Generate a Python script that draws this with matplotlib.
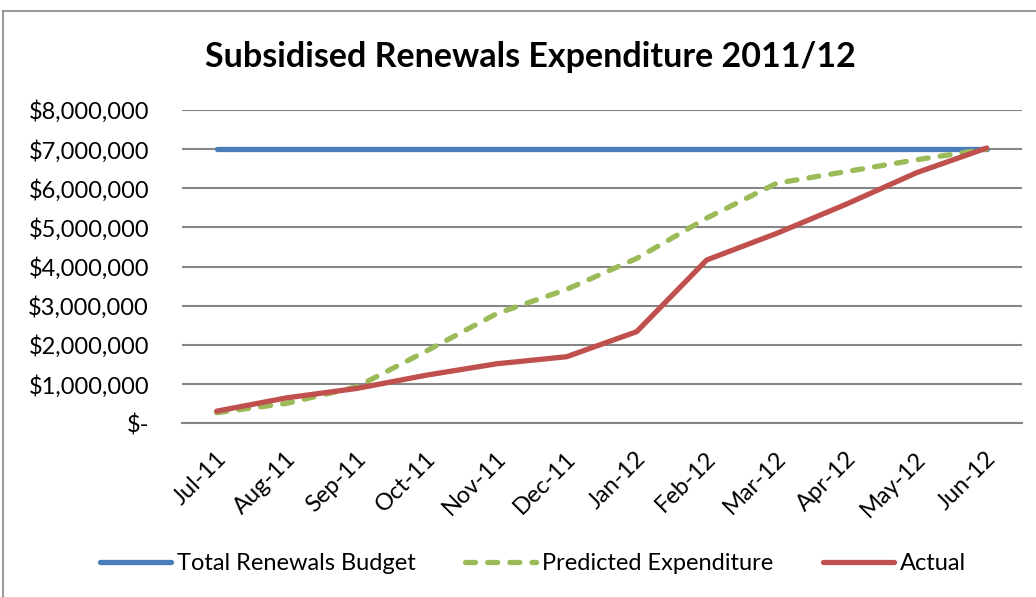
import matplotlib
matplotlib.use("Agg")
import matplotlib.pyplot as plt
from matplotlib.lines import Line2D
from matplotlib.ticker import FuncFormatter
from matplotlib.transforms import ScaledTranslation

months = ["Jul-11", "Aug-11", "Sep-11", "Oct-11", "Nov-11", "Dec-11",
          "Jan-12", "Feb-12", "Mar-12", "Apr-12", "May-12", "Jun-12"]
budget = [7000000] * 12
predicted = [270000, 510000, 930000, 1850000, 2800000, 3420000,
             4210000, 5240000, 6130000, 6430000, 6730000, 7000000]
actual = [310000, 650000, 890000, 1230000, 1520000, 1700000,
          2340000, 4170000, 4850000, 5600000, 6400000, 7030000]

plt.rcParams['font.family'] = ['Lato', 'DejaVu Sans']

W, H = 1036, 597
fig = plt.figure(figsize=(W / 100, H / 100), dpi=100)

# chart border
fig.add_artist(Line2D([3 / W, 1.0], [1 - 11 / H, 1 - 11 / H], color='#888888', lw=1.2))
fig.add_artist(Line2D([3 / W, 3 / W], [0, 1 - 11 / H], color='#888888', lw=1.2))

ax = fig.add_axes([181.7 / W, 1 - 423.3 / H, 840 / W, (423.3 - 110) / H])
x = list(range(len(months)))

ax.plot(x, budget, color='#4A7EBB', lw=3.8, solid_capstyle='round', label='Total Renewals Budget', zorder=3)
ax.plot(x, predicted, color='#9BBB59', lw=3.8, dashes=(1.9, 2.3), dash_capstyle='round',
        label='Predicted Expenditure', zorder=3)
ax.plot(x, actual, color='#C0504D', lw=3.8, solid_capstyle='round', label='Actual', zorder=4)

ax.set_xlim(-0.5, 11.5)
ax.set_ylim(0, 8000000)
ax.set_yticks(range(0, 8000001, 1000000))
ax.yaxis.set_major_formatter(FuncFormatter(lambda v, p: "$-" if v == 0 else f"${v:,.0f}"))
ax.yaxis.grid(True, color='#868686', lw=1.5)
ax.set_axisbelow(True)
for s in ['top', 'right', 'left']:
    ax.spines[s].set_visible(False)
ax.spines['bottom'].set_color('#868686')
ax.spines['bottom'].set_linewidth(1.5)
ax.tick_params(axis='y', length=0, labelsize=17, pad=23.5)
ax.tick_params(axis='x', length=0, labelsize=17, pad=23)
ax.set_xticks(x)
ax.set_xticklabels(months, rotation=45, ha='right', va='center', rotation_mode='anchor')
off = ScaledTranslation(6 / 100, 0, fig.dpi_scale_trans)
for lab in ax.get_xticklabels():
    lab.set_transform(lab.get_transform() + off)

fig.text(530 / W, 1 - 57 / H, "Subsidised Renewals Expenditure 2011/12",
         ha='center', va='center', fontsize=24.5, fontweight='bold')

fig.legend(loc='center', bbox_to_anchor=(533 / W, 1 - 564 / H), ncol=3, frameon=False,
           fontsize=17, handlelength=3.0, handletextpad=0.25, columnspacing=2.1)

fig.savefig("out.png", dpi=100)
